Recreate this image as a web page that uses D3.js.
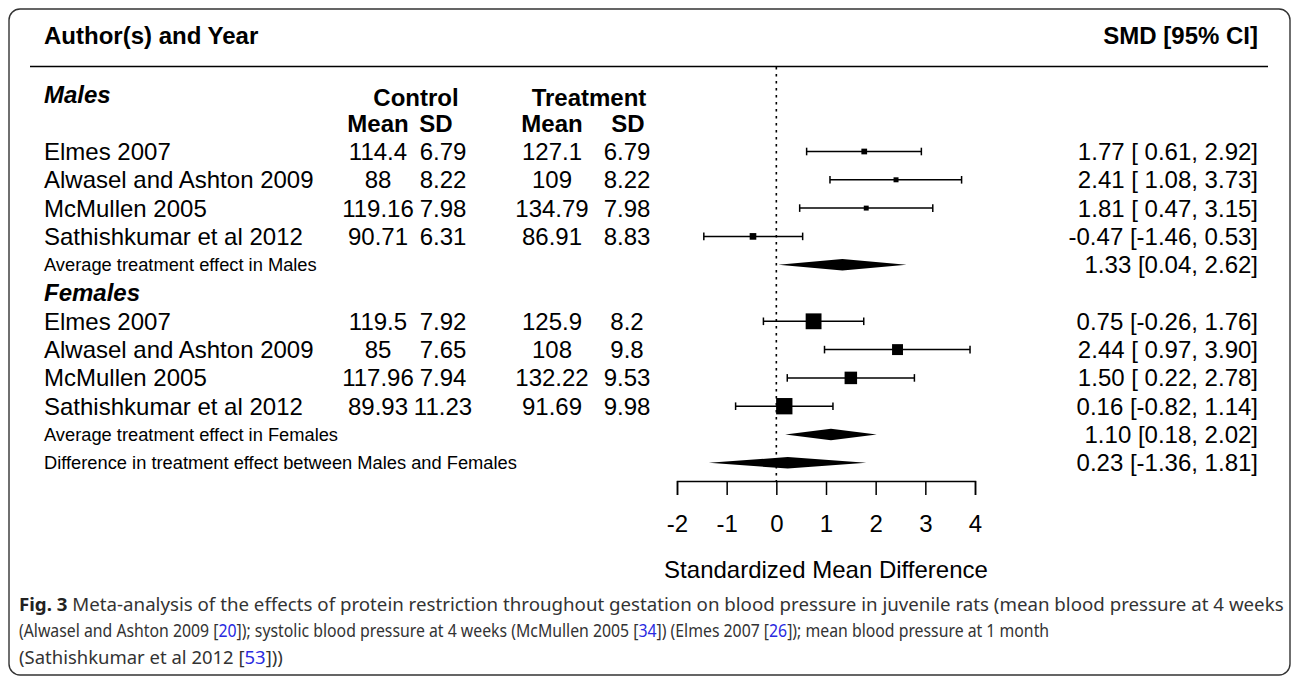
<!DOCTYPE html>
<html>
<head>
<meta charset="utf-8">
<script src="https://cdn.jsdelivr.net/npm/d3@7"></script>
<style>
  html, body { margin: 0; padding: 0; background: #fff; }
  svg { display: block; }
  text { white-space: pre; }
</style>
</head>
<body>
<svg id="chart" width="1292" height="676"></svg>
<script>
// ---------------- data ----------------
const studies = ["Elmes 2007", "Alwasel and Ashton 2009", "McMullen 2005", "Sathishkumar et al 2012"];

const maleCtrlMean = [114.4, 88, 119.16, 90.71];
const maleCtrlSD   = [6.79, 8.22, 7.98, 6.31];
const maleTrtMean  = [127.1, 109, 134.79, 86.91];
const maleTrtSD    = [6.79, 8.22, 7.98, 8.83];
const maleSMD      = [1.77, 2.41, 1.81, -0.47];
const maleLower    = [0.61, 1.08, 0.47, -1.46];
const maleUpper    = [2.92, 3.73, 3.15, 0.53];

const femaleCtrlMean = [119.5, 85, 117.96, 89.93];
const femaleCtrlSD   = [7.92, 7.65, 7.94, 11.23];
const femaleTrtMean  = [125.9, 108, 132.22, 91.69];
const femaleTrtSD    = [8.2, 9.8, 9.53, 9.98];
const femaleSMD      = [0.75, 2.44, 1.50, 0.16];
const femaleLower    = [-0.26, 0.97, 0.22, -0.82];
const femaleUpper    = [1.76, 3.90, 2.78, 1.14];

const summaryLabels = ["Average treatment effect in Males", "Average treatment effect in Females", "Difference in treatment effect between Males and Females"];
const summaryEst    = [1.33, 1.10, 0.23];
const summaryLower  = [0.04, 0.18, -1.36];
const summaryUpper  = [2.62, 2.02, 1.81];

const axisTicks = [-2, -1, 0, 1, 2, 3, 4];
const axisTitle = "Standardized Mean Difference";

// ---------------- layout ----------------
const svg = d3.select("#chart");
const FONT = "'Liberation Sans', Arial, Helvetica, sans-serif";
const x = d3.scaleLinear().domain([-2, 4]).range([677, 975]);
const row = d3.scaleLinear().domain([0, 1]).range([151.5, 179.8]);
const f2 = v => v.toFixed(2);

// frame
svg.append("rect").attr("x", 9).attr("y", 9).attr("width", 1281).attr("height", 666)
  .attr("rx", 11).attr("fill", "none").attr("stroke", "#333").attr("stroke-width", 1.4);

const g = svg.append("g").attr("font-family", FONT).attr("fill", "#000");

// header
g.append("text").attr("x", 44).attr("y", 36).attr("dy", "0.35em")
  .attr("font-size", 24).attr("font-weight", "bold").text("Author(s) and Year");
g.append("text").attr("x", 1258).attr("y", 36).attr("dy", "0.35em").attr("text-anchor", "end")
  .attr("font-size", 24).attr("font-weight", "bold").text("SMD [95% CI]");
g.append("line").attr("x1", 30).attr("x2", 1268).attr("y1", 66.5).attr("y2", 66.5)
  .attr("stroke", "#000").attr("stroke-width", 1.5);

// reference line
g.append("line").attr("x1", x(0)).attr("x2", x(0)).attr("y1", 67).attr("y2", 481)
  .attr("stroke", "#000").attr("stroke-width", 1.6).attr("stroke-dasharray", "2.5,4.5");

// group headers
function groupHeader(label, r) {
  g.append("text").attr("x", 44).attr("y", row(r)).attr("dy", "0.35em")
    .attr("font-size", 24).attr("font-weight", "bold").attr("font-style", "italic").text(label);
}
groupHeader("Males", -2);
groupHeader("Females", 5);

// column headers
const colCM = 378, colCS = 443, colTM = 552, colTS = 627;
[["Control", 416, -1.9], ["Treatment", 589, -1.9], ["Mean", 378, -1], ["SD", 436, -1], ["Mean", 552, -1], ["SD", 628, -1]]
  .forEach(([t, cx, r]) => {
    g.append("text").attr("x", cx).attr("y", row(r)).attr("dy", "0.35em")
      .attr("text-anchor", "middle").attr("font-size", 24).attr("font-weight", "bold").text(t);
  });

function padLeft(s, n) { while (s.length < n) s = " " + s; return s; }

function studyGroup(startRow, cm, cs, tm, ts, est, lo, hi, sizeRange) {
  const loStr = lo.map(f2);
  const w = d3.max(loStr, s => s.length);
  const precision = lo.map((l, i) => 1 / (hi[i] - l));
  const size = d3.scaleLinear().domain([0, 0.5]).range([0, sizeRange]);
  studies.forEach((name, i) => {
    const y = row(startRow + i);
    g.append("text").attr("x", 44).attr("y", y).attr("dy", "0.35em").attr("font-size", 24).text(name);
    [[cm[i], colCM], [cs[i], colCS], [tm[i], colTM], [ts[i], colTS]].forEach(([v, cx]) => {
      g.append("text").attr("x", cx).attr("y", y).attr("dy", "0.35em")
        .attr("text-anchor", "middle").attr("font-size", 24).text(String(v));
    });
    // CI
    g.append("line").attr("x1", x(lo[i])).attr("x2", x(hi[i])).attr("y1", y).attr("y2", y)
      .attr("stroke", "#000").attr("stroke-width", 1.5);
    [lo[i], hi[i]].forEach(v => {
      g.append("line").attr("x1", x(v)).attr("x2", x(v)).attr("y1", y - 3.8).attr("y2", y + 3.8)
        .attr("stroke", "#000").attr("stroke-width", 1.5);
    });
    const s = size(precision[i]);
    g.append("rect").attr("x", x(est[i]) - s / 2).attr("y", y - s / 2).attr("width", s).attr("height", s)
      .attr("fill", "#000");
    g.append("text").attr("x", 1258).attr("y", y).attr("dy", "0.35em").attr("text-anchor", "end")
      .attr("font-size", 24)
      .text(f2(est[i]) + " [" + padLeft(loStr[i], w) + ", " + f2(hi[i]) + "]");
  });
}
studyGroup(0, maleCtrlMean, maleCtrlSD, maleTrtMean, maleTrtSD, maleSMD, maleLower, maleUpper, 6.6);
studyGroup(6, femaleCtrlMean, femaleCtrlSD, femaleTrtMean, femaleTrtSD, femaleSMD, femaleLower, femaleUpper, 16);

// summaries
const summaryRows = [4, 10, 11];
summaryLabels.forEach((lab, i) => {
  const y = row(summaryRows[i]);
  g.append("text").attr("x", 44).attr("y", y).attr("dy", "0.35em").attr("font-size", 18.3).text(lab);
  const h = 5.8;
  g.append("polygon")
    .attr("points", [[x(summaryLower[i]), y], [x(summaryEst[i]), y - h], [x(summaryUpper[i]), y], [x(summaryEst[i]), y + h]].map(p => p.join(",")).join(" "))
    .attr("fill", "#000");
  g.append("text").attr("x", 1258).attr("y", y).attr("dy", "0.35em").attr("text-anchor", "end")
    .attr("font-size", 24)
    .text(f2(summaryEst[i]) + " [" + f2(summaryLower[i]) + ", " + f2(summaryUpper[i]) + "]");
});

// axis
const axis = d3.axisBottom(x).tickValues(axisTicks).tickSize(14).tickSizeOuter(14).tickPadding(20)
  .tickFormat(d => String(d));
const ax = svg.append("g").attr("transform", "translate(0,481)").call(axis);
ax.select(".domain").attr("stroke", "#000").attr("stroke-width", 1.5);
ax.selectAll(".tick line").attr("stroke", "#000").attr("stroke-width", 1.5);
ax.selectAll(".tick text").attr("font-family", FONT).attr("font-size", 24).attr("fill", "#000");
svg.append("text").attr("x", x(1)).attr("y", 578).attr("text-anchor", "middle")
  .attr("font-family", FONT).attr("font-size", 24).attr("fill", "#000").text(axisTitle);

// caption
const CAP = "'Noto Sans', 'Open Sans', sans-serif";
const capLines = [
  [[{t: "Fig. 3", b: true}, {t: " Meta-analysis of the effects of protein restriction throughout gestation on blood pressure in juvenile rats (mean blood pressure at 4 weeks"}], 611, 1265],
  [[{t: "(Alwasel and Ashton 2009 ["}, {t: "20", l: true}, {t: "]); systolic blood pressure at 4 weeks (McMullen 2005 ["}, {t: "34", l: true}, {t: "]) (Elmes 2007 ["}, {t: "26", l: true}, {t: "]); mean blood pressure at 1 month"}], 637, 1031],
  [[{t: "(Sathishkumar et al 2012 ["}, {t: "53", l: true}, {t: "]))"}], 664, 264]
];
capLines.forEach(([parts, y, target]) => {
  const t = svg.append("text").attr("x", 0).attr("y", 0).attr("font-family", CAP)
    .attr("font-size", 18.6).attr("fill", "#333");
  parts.forEach(p => {
    const sp = t.append("tspan").text(p.t);
    if (p.b) sp.attr("font-weight", "bold").attr("fill", "#222");
    if (p.l) sp.attr("fill", "#2a2ae0");
  });
  const w = t.node().getComputedTextLength();
  const sx = w > 0 ? target / w : 1;
  t.attr("transform", `translate(19,${y}) scale(${sx},1)`);
});
</script>
</body>
</html>
